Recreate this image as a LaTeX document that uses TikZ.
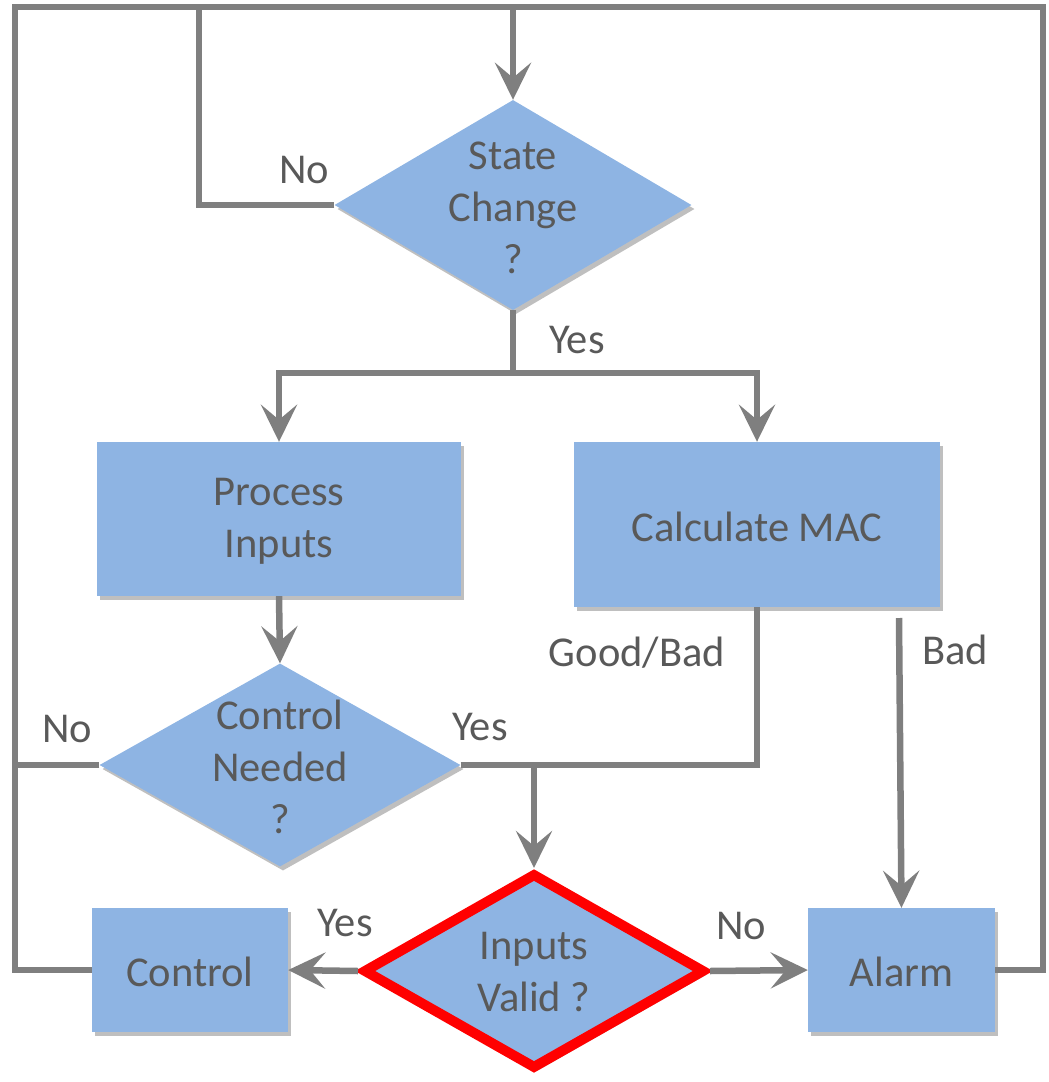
\documentclass[tikz,border=0pt]{standalone}
\usepackage{fontspec}
\setmainfont{Carlito}
\usetikzlibrary{shapes.geometric,arrows.meta,shadows}
\definecolor{boxblue}{HTML}{8EB4E3}
\definecolor{txtgray}{HTML}{595959}
\definecolor{linegray}{HTML}{7F7F7F}
\definecolor{alertred}{HTML}{FF0000}
\begin{document}
\begin{tikzpicture}[x=1pt,y=-1pt,
  font=\fontsize{42.5}{52}\selectfont, text=txtgray,
  conn/.style={draw=linegray, line width=6.5pt},
  arr/.style={conn, -{Stealth[length=37pt,width=36pt,inset=15pt]}},
  shad/.style={drop shadow={shadow xshift=3pt, shadow yshift=-4pt, opacity=0.25, fill=black}},
  procbox/.style={rectangle, fill=boxblue, draw=none, inner sep=0pt, shad},
  decision/.style={diamond, fill=boxblue, draw=none, inner sep=0pt, shad},
  txt/.style={inner sep=0pt, align=center},
  lbl/.style={inner sep=0pt}]
\useasboundingbox (0,0) rectangle (1049,1082);

% shapes
\node[decision, minimum width=357pt, minimum height=210pt] (sc) at (513,205) {};
\node[txt] (sct) at (513,208) {State\\Change\\?};

\node[procbox, minimum width=364pt, minimum height=154pt] (pi) at (279,519) {};
\node[txt] (pit) at (279,521) {Process\\Inputs};

\node[procbox, minimum width=366pt, minimum height=165pt] (cm) at (757,524.5) {};
\node[txt] (cmt) at (757,527) {Calculate MAC};

\node[decision, minimum width=361pt, minimum height=203pt] (cn) at (280,765) {};
\node[txt] (cnt) at (280,767) {Control\\Needed\\?};

\node[decision, draw=alertred, line width=10pt, minimum width=342pt, minimum height=196pt] (iv) at (534,971) {};
\node[txt] (ivt) at (534,972) {Inputs\\Valid ?};

\node[procbox, minimum width=196pt, minimum height=124pt] (ctl) at (190,970) {};
\node[txt] (ctlt) at (190,972) {Control};

\node[procbox, minimum width=187pt, minimum height=124pt] (al) at (901.5,970) {};
\node[txt] (alt) at (901.5,972) {Alarm};

% helper coordinates
\coordinate (tl) at (15,7);
\coordinate (tr) at (1043,7);
\coordinate (tno) at (199,7);
\coordinate (ttop) at (513,7);
\coordinate (split) at (513,373);
\coordinate (join) at (534,766);
\coordinate (badtop) at (899,618);

% connectors
\draw[conn] (al.east) -| (tr) -- (tl) |- (ctl.west);
\draw[conn] (sc.west) -| (tno);
\draw[arr] (ttop) -- (sc.north);
\draw[conn] (cn.west) -- (cn.west -| tl);
\draw[conn] (sc.south) -- (split);
\draw[arr] (split) -| (pi.north);
\draw[arr] (split) -| (cm.north);
\draw[arr] (pi.south) -- (cn.north);
\draw[conn] (cn.east) -| (cm.south);
\draw[arr] (join) -- (iv.north);
\draw[arr] (badtop) -- (al.north);
\draw[arr] (iv.west) -- (ctl.east);
\draw[arr] (iv.east) -- (al.west);

% labels
\node[lbl] (l1) at (304,170) {No};
\node[lbl] (l2) at (577,340) {Yes};
\node[lbl] (l3) at (67,729) {No};
\node[lbl] (l4) at (480,727) {Yes};
\node[lbl] (l5) at (637,653) {Good/Bad};
\node[lbl] (l6) at (955,650) {Bad};
\node[lbl] (l7) at (345,923) {Yes};
\node[lbl] (l8) at (741,926) {No};
\end{tikzpicture}
\end{document}
